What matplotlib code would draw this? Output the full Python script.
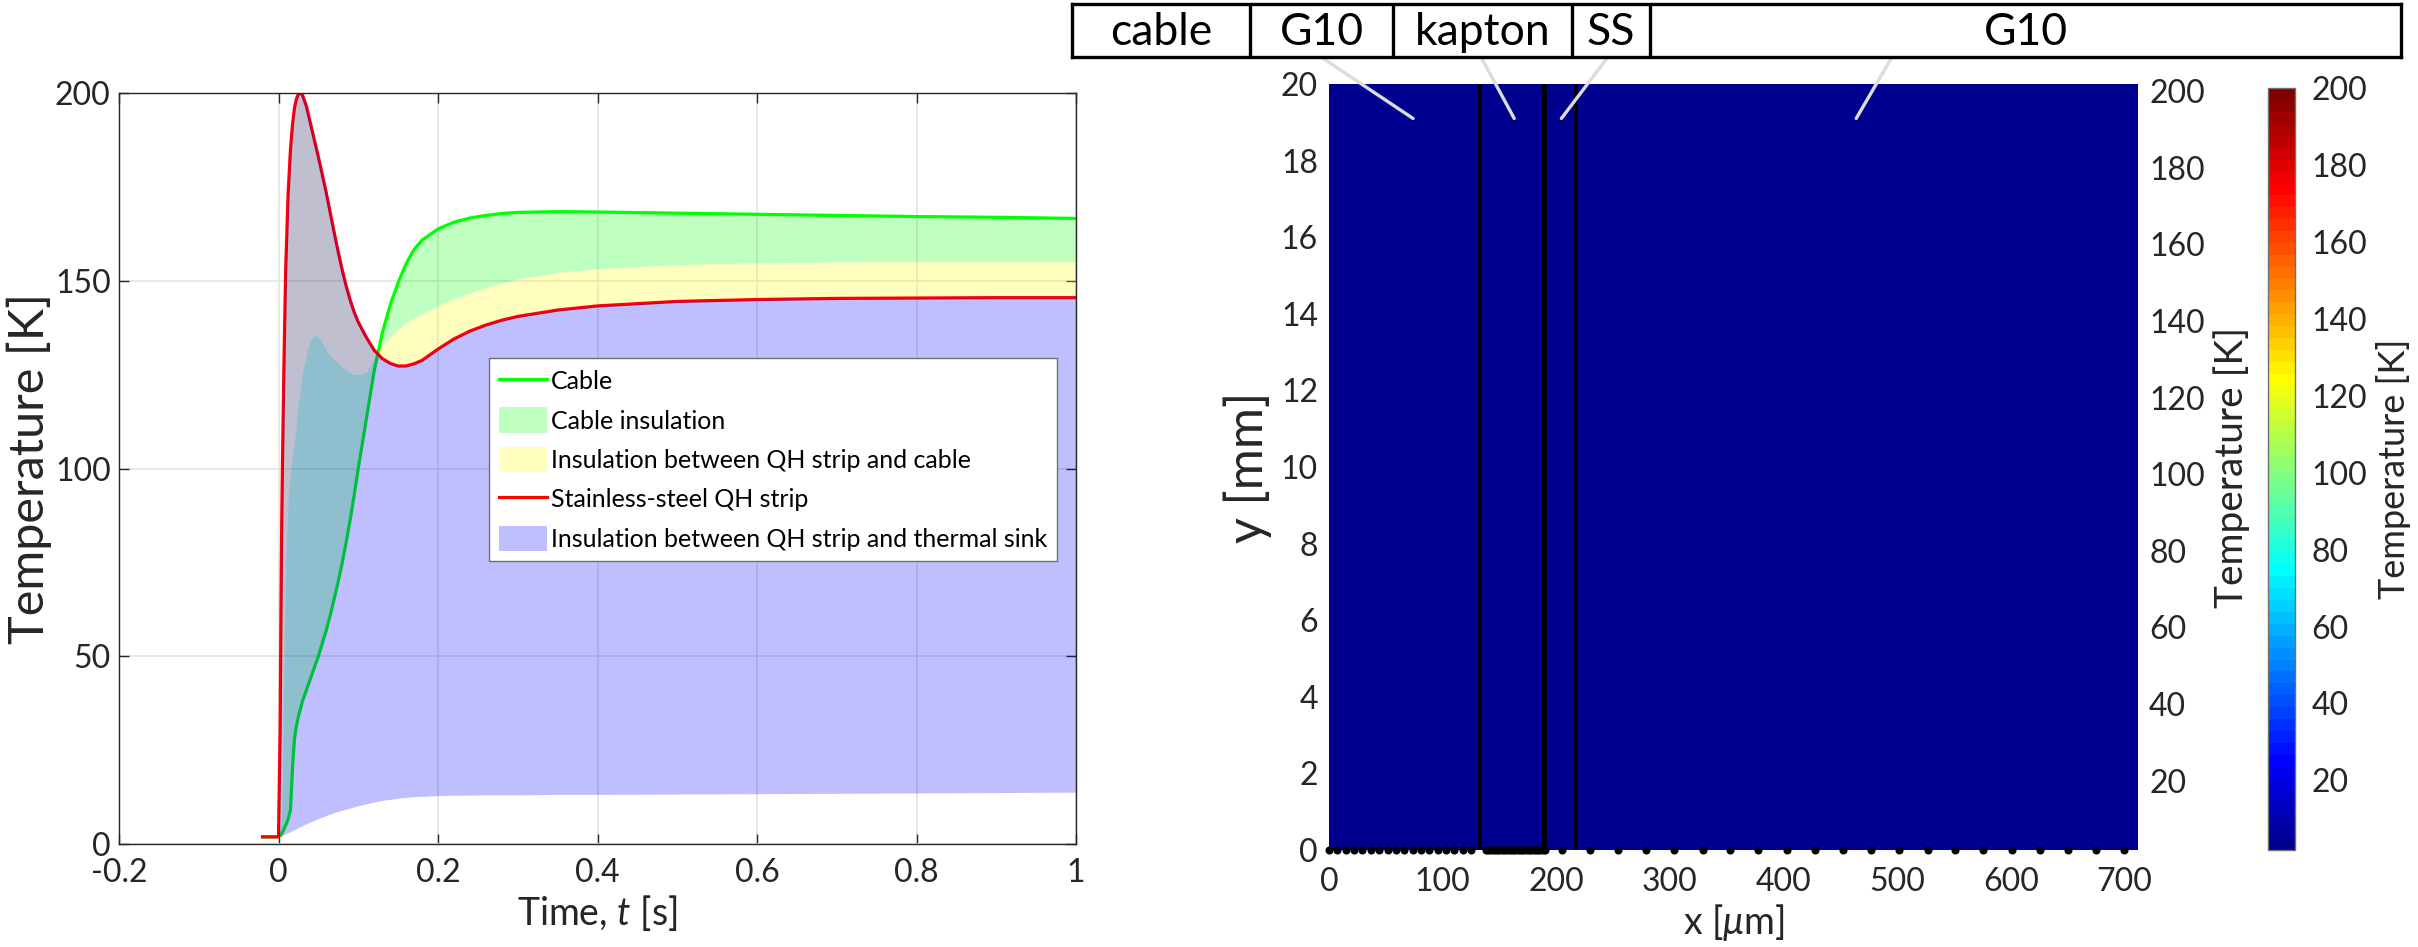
import numpy as np
import matplotlib
matplotlib.use('Agg')
import matplotlib.pyplot as plt
from matplotlib.colors import LinearSegmentedColormap

plt.rcParams['font.family'] = ['Lato', 'DejaVu Sans']
plt.rcParams['mathtext.fontset'] = 'custom'
plt.rcParams['mathtext.it'] = 'Lato:italic'
plt.rcParams['mathtext.rm'] = 'Lato'

# ---- left panel: temperatures vs time ----
t = [-0.02, 0, 0.002, 0.003, 0.004, 0.005, 0.007, 0.009, 0.012, 0.015,
     0.0175, 0.02, 0.0225, 0.025, 0.0275, 0.03, 0.035, 0.04, 0.045, 0.05,
     0.055, 0.06, 0.065, 0.07, 0.075, 0.08, 0.085, 0.09, 0.095, 0.1,
     0.11, 0.12, 0.13, 0.14, 0.15, 0.16, 0.17, 0.18, 0.2, 0.22,
     0.24, 0.26, 0.28, 0.3, 0.35, 0.4, 0.5, 0.6, 0.7, 0.8, 0.9, 1.0]

T_cable = [1.9, 1.9, 2.2, 2.5, 2.8, 3.2, 4, 5, 6.5, 9,
           20, 28, 31.5, 34, 36, 38, 41, 44, 47, 50,
           53.5, 57, 61, 65.5, 70, 75, 80.5, 86.5, 93, 100,
           113, 126, 136, 143.5, 149.5, 154.5, 158.3, 160.8, 163.8, 165.6,
           166.7, 167.4, 167.9, 168.2, 168.4, 168.3, 168, 167.7, 167.4, 167.1, 166.9, 166.6]

T_interface = [1.9, 1.9, 3, 5, 10, 20, 50, 75, 92, 99,
               103, 107.5, 112, 117.5, 121.5, 125.5, 130.5, 134, 135.6, 135,
               133.5, 131.5, 130, 129, 128, 127, 126.2, 125.5, 125.1, 125,
               125.6, 129.5, 132.5, 135, 137, 138.8, 140.1, 141.2, 143.3, 145.2,
               146.8, 148.2, 149.4, 150.5, 152.2, 153.2, 154.3, 154.8, 155, 155.1, 155.1, 155.1]

T_strip = [1.9, 1.9, 30, 60, 85, 102, 130, 153, 173, 185,
           191.5, 196, 198.5, 199.7, 200, 199.5, 196.5, 192, 187.5, 183,
           178.2, 173.4, 168, 162.7, 157.6, 152.8, 148.5, 144.8, 141.6, 139,
           135, 131.5, 129.3, 128, 127.3, 127.3, 127.9, 128.8, 131.8, 134.5,
           136.6, 138.2, 139.5, 140.5, 142.2, 143.3, 144.5, 145, 145.3, 145.4, 145.5, 145.5]

T_sink = [1.9, 1.9, 2.0, 2.1, 2.2, 2.3, 2.5, 2.7, 3.0, 3.3,
          3.6, 3.9, 4.1, 4.4, 4.6, 4.9, 5.4, 5.9, 6.3, 6.8,
          7.2, 7.6, 8.0, 8.4, 8.7, 9.0, 9.3, 9.6, 9.9, 10.2,
          10.7, 11.2, 11.6, 11.9, 12.2, 12.4, 12.6, 12.7, 12.9, 13.0,
          13.0, 13.1, 13.1, 13.1, 13.2, 13.2, 13.3, 13.4, 13.5, 13.6, 13.7, 13.8]

# ---- right panel: mesh and temperature field ----
layer_names = ['cable', 'G10', 'kapton', 'SS', 'G10']
interfaces = [132.5, 189.5, 217.5]
mesh_x = [0, 7.4, 14.7, 22.1, 29.4, 36.8, 44.1, 51.5, 58.8, 66.2, 73.5, 80.9,
          88.2, 95.6, 102.9, 110.3, 117.6, 125.0,
          138, 140, 142, 144, 146, 148, 150, 152, 154, 156, 158, 160, 162, 164,
          166, 168, 170, 172, 174, 176, 178, 180, 182, 184, 186, 188, 190,
          205, 230, 254, 279, 304, 329, 353, 378, 403, 428, 452, 477, 502, 527,
          551, 576, 601, 626, 650, 675, 700]
field_x = [0, 712]
field_y = [0, 20]
field_T = [[1.9]]
T_min, T_max = 1.9, 200

W, H = 2418, 947
fig = plt.figure(figsize=(W / 100, H / 100), dpi=100)

def frac(x0, y0, x1, y1):
    return [x0 / W, 1 - y1 / H, (x1 - x0) / W, (y1 - y0) / H]

tick_fs = 23
label_fs = 27
txt = '#262626'

ax = fig.add_axes(frac(119, 93, 1076, 844))
ax.plot(t, T_cable, color=(0, 1, 0), lw=2.3, label='Cable', zorder=2)
ax.fill_between(t, T_cable, T_interface, color=(0, 1, 0), alpha=0.25, lw=0,
                label='Cable insulation', zorder=2)
ax.fill_between(t, T_interface, T_strip, color=(1, 1, 0), alpha=0.25, lw=0,
                label='Insulation between QH strip and cable', zorder=2)
ax.plot(t, T_strip, color=(1, 0, 0), lw=2.3, label='Stainless-steel QH strip', zorder=2)
ax.fill_between(t, T_sink, T_strip, color=(0, 0, 1), alpha=0.25, lw=0,
                label='Insulation between QH strip and thermal sink', zorder=2)

ax.set_xlim(-0.2, 1)
ax.set_ylim(0, 200)
ax.set_xticks([-0.2, 0, 0.2, 0.4, 0.6, 0.8, 1])
ax.set_xticklabels(['-0.2', '0', '0.2', '0.4', '0.6', '0.8', '1'])
ax.set_yticks([0, 50, 100, 150, 200])
ax.grid(True, color='#e3e3e3', lw=1.2, zorder=0)
ax.set_axisbelow(True)
ax.tick_params(direction='in', top=True, right=True, length=7, width=1,
               color=txt, labelsize=tick_fs, labelcolor=txt)
ax.tick_params(axis='x', pad=10)
ax.tick_params(axis='y', pad=6)
for s in ax.spines.values():
    s.set_color(txt)
    s.set_linewidth(1)
ax.set_xlabel('Time, $t$ [s]', fontsize=label_fs, color=txt)
ax.set_ylabel('Temperature [K]', fontsize=35, color=txt, labelpad=2)
leg = ax.legend(loc='upper left', bbox_to_anchor=(0.387, 0.647), fontsize=18,
                frameon=True, fancybox=False, framealpha=1, edgecolor='#707070',
                handlelength=1.9, handleheight=1.2, handletextpad=0.15,
                labelspacing=0.55, borderpad=0.4, borderaxespad=0)
leg.get_frame().set_linewidth(1)

# right panel
cmap = LinearSegmentedColormap.from_list(
    'mjet', [(0, (0, 0, 0.5625)), (7 / 63, (0, 0, 1)), (23 / 63, (0, 1, 1)),
             (39 / 63, (1, 1, 0)), (55 / 63, (1, 0, 0)), (1, (0.5, 0, 0))], N=64)

ax2 = fig.add_axes(frac(1329, 84, 2138, 850))
mesh = ax2.pcolormesh(field_x, field_y, field_T, cmap=cmap, vmin=T_min, vmax=T_max,
                      shading='flat')
for xi, w in zip(interfaces, [2.6, 3.4, 2.6]):
    ax2.plot([xi, xi], field_y, color='black', lw=w)
ax2.plot(mesh_x, np.zeros(len(mesh_x)), 'o', color='black', ms=4.8, clip_on=False, zorder=5)
ax2.set_xlim(field_x)
ax2.set_ylim(field_y)
ax2.set_xticks(range(0, 701, 100))
ax2.set_yticks(range(0, 21, 2))
ax2.tick_params(length=0, labelsize=tick_fs, labelcolor=txt)
ax2.tick_params(axis='x', pad=12)
ax2.tick_params(axis='y', pad=8)
for s in ax2.spines.values():
    s.set_visible(False)
ax2.set_xlabel(r'x [$\mu$m]', fontsize=label_fs, color=txt)
ax2.set_ylabel('y [mm]', fontsize=36, color=txt, labelpad=6)

ax3 = ax2.twinx()
ax3.set_ylim(T_min, T_max + 1.9)
ax3.set_yticks(range(20, 201, 20))
ax3.tick_params(length=0, labelsize=tick_fs, labelcolor=txt, pad=8)
for s in ax3.spines.values():
    s.set_visible(False)
ax3.set_ylabel('Temperature [K]', fontsize=label_fs + 1, color=txt, labelpad=6)

cax = fig.add_axes(frac(2268, 88, 2295, 850))
cb = fig.colorbar(mesh, cax=cax, ticks=range(20, 201, 20))
cb.outline.set_edgecolor('#707070')
cb.outline.set_linewidth(1)
cax.tick_params(length=0, labelsize=tick_fs, labelcolor=txt, pad=12)
cb.set_label('Temperature [K]', fontsize=label_fs - 1, color=txt, labelpad=6)

# layer legend box above the mesh
cells = [1072, 1250, 1393, 1572, 1650, 2401]
box = fig.add_axes(frac(cells[0], 4, cells[-1], 57))
box.set_xlim(cells[0], cells[-1])
box.set_ylim(0, 1)
box.set_xticks([])
box.set_yticks([])
for s in box.spines.values():
    s.set_linewidth(2.4)
for c in cells[1:-1]:
    box.plot([c, c], [0, 1], color='black', lw=2.4)
for name, c0, c1 in zip(layer_names, cells[:-1], cells[1:]):
    box.text((c0 + c1) / 2, 0.47, name, ha='center', va='center', fontsize=32)

# pointers from the box to the layers
pointers = [(1321, 74), (1481, 163), (1608, 204.5), (1892, 464)]
for px, xd in pointers:
    ax2.annotate('', xy=(xd, 19.1), xycoords='data',
                 xytext=(px / W, 1 - 57 / H), textcoords='figure fraction',
                 arrowprops=dict(arrowstyle='-', color='#dcdcdc', lw=2.4,
                                 shrinkA=0, shrinkB=0),
                 annotation_clip=False)

fig.savefig('out.png', dpi=100)
